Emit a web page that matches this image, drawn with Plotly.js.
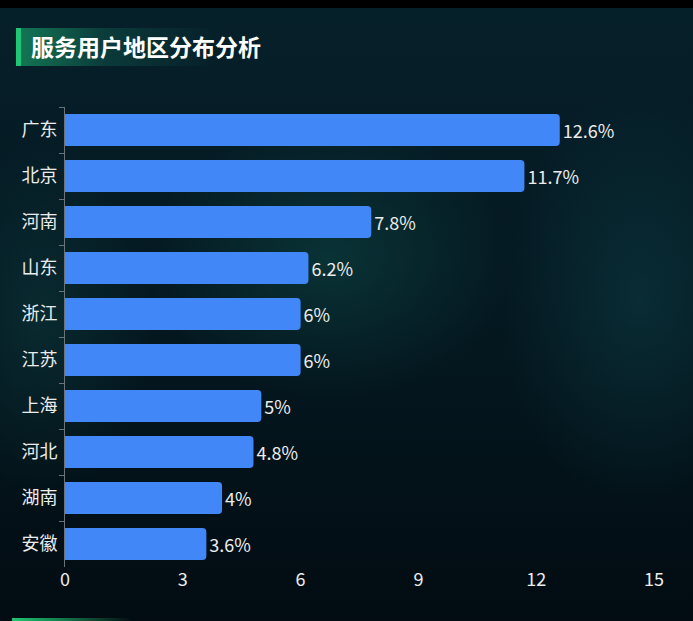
<!DOCTYPE html>
<html><head><meta charset="utf-8">
<script src="https://cdn.plot.ly/plotly-3.0.1.min.js"></script>
<style>
html,body{margin:0;padding:0;width:693px;height:621px;overflow:hidden;background:#03121a;}
#bg{position:absolute;left:0;top:0;width:693px;height:621px;
background:
radial-gradient(ellipse 260px 200px at 330px 260px, rgba(20,110,100,0.30), rgba(0,0,0,0) 70%),
radial-gradient(ellipse 200px 300px at 640px 300px, rgba(20,90,100,0.30), rgba(0,0,0,0) 70%),
radial-gradient(ellipse 160px 260px at 40px 320px, rgba(20,90,90,0.28), rgba(0,0,0,0) 70%),
linear-gradient(180deg,#06202a 0%,#04161e 60%,#020c12 100%);}
#topband{position:absolute;left:0;top:0;width:693px;height:8px;background:#000;}
#tbar{position:absolute;left:16px;top:28px;width:200px;height:38px;
background:linear-gradient(90deg,rgba(24,150,100,0.75) 0%,rgba(20,110,90,0.35) 45%,rgba(0,0,0,0) 100%);}
#tstrip{position:absolute;left:16px;top:28px;width:5px;height:38px;background:#1fc774;}
#bstrip{position:absolute;left:12px;top:618px;width:120px;height:3px;background:linear-gradient(90deg,#1fc774,rgba(0,0,0,0));}
#chart{position:absolute;left:0;top:0;width:693px;height:621px;}
</style></head>
<body>
<div id="bg"></div><div id="topband"></div><div id="tbar"></div><div id="tstrip"></div><div id="bstrip"></div>
<div id="chart"></div>
<script>
const categories = ["广东","北京","河南","山东","浙江","江苏","上海","河北","湖南","安徽"];
const values = [12.6, 11.7, 7.8, 6.2, 6, 6, 5, 4.8, 4, 3.6];
const labels = values.map(v => v + "%");
const xTicks = [0, 3, 6, 9, 12, 15];

const font = "Noto Sans CJK SC, Noto Sans, sans-serif";
Plotly.newPlot("chart", [{
  type: "bar",
  orientation: "h",
  y: categories,
  x: values,
  text: labels,
  textposition: "outside",
  cliponaxis: false,
  textfont: {color: "#ececec", size: 18, family: font},
  marker: {color: "#4287f7", cornerradius: 4},
  hoverinfo: "skip"
}], {
  width: 693, height: 621,
  paper_bgcolor: "rgba(0,0,0,0)",
  plot_bgcolor: "rgba(0,0,0,0)",
  margin: {l: 65, r: 39, t: 107, b: 54},
  bargap: 0.3,
  showlegend: false,
  title: {text: "<b>服务用户地区分布分析</b>", x: 31/693, xref: "container", xanchor: "left",
          y: 1 - 48/621, yref: "container", yanchor: "middle",
          font: {color: "#ffffff", size: 23, family: font}},
  xaxis: {range: [0, 15], tickvals: xTicks, showgrid: false, zeroline: false,
          showline: false, ticks: "", tickfont: {color: "#ececec", size: 18, family: font}},
  yaxis: {autorange: "reversed", type: "category", showgrid: false, showline: true,
          linecolor: "#6b7378", linewidth: 1, ticks: "outside", tickson: "boundaries",
          ticklen: 5, tickcolor: "#6b7378", ticklabelstandoff: 3,
          tickfont: {color: "#ececec", size: 18, family: font}}
}, {displayModeBar: false, staticPlot: true});
</script>
</body></html>
